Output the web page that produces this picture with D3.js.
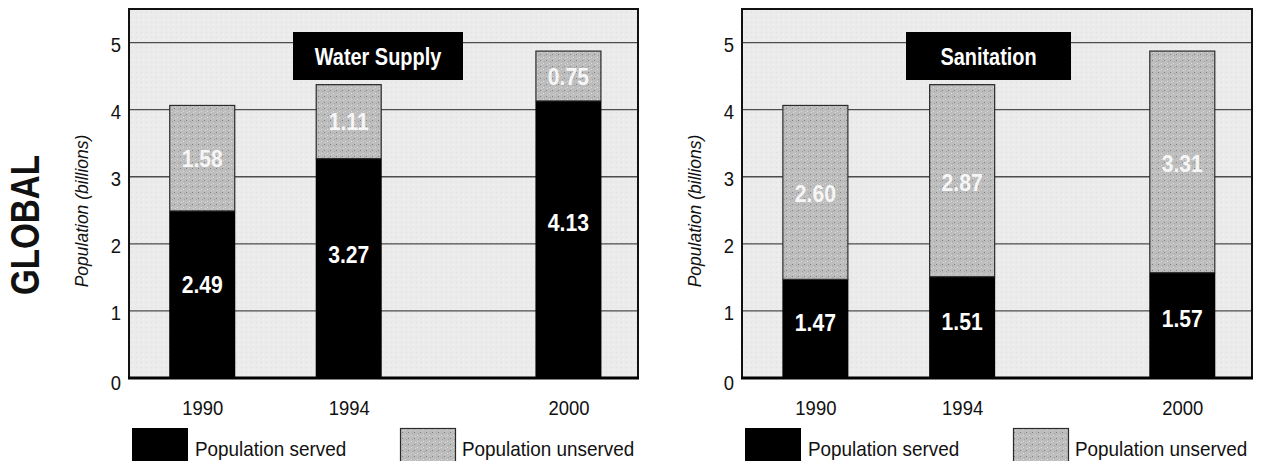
<!DOCTYPE html>
<html><head><meta charset="utf-8">
<script src="https://cdn.jsdelivr.net/npm/d3@7"></script>
<style>body{margin:0;background:#fff}svg{display:block}</style>
</head><body><svg id="c" width="1264" height="461"></svg>
<script>
// ---- data ----
const years = [1990, 1994, 2000];
const waterServed = [2.49, 3.27, 4.13];
const waterUnserved = [1.58, 1.11, 0.75];
const sanServed = [1.47, 1.51, 1.57];
const sanUnserved = [2.60, 2.87, 3.31];
const yTicks = [0, 1, 2, 3, 4, 5];
const panelTitles = ["Water Supply", "Sanitation"];
const legendLabels = ["Population served", "Population unserved"];
const yAxisTitle = "Population (billions)";
const sideLabel = "GLOBAL";

const FONT = "'Liberation Sans', Arial, Helvetica, sans-serif";
const svg = d3.select("#c");

// pattern for unserved
const defs = svg.append("defs");
const pat = defs.append("pattern").attr("id", "dots").attr("patternUnits", "userSpaceOnUse")
  .attr("width", 6).attr("height", 6);
pat.append("rect").attr("width", 6).attr("height", 6).attr("fill", "#bdbdbd");
pat.append("rect").attr("x", 0).attr("y", 0).attr("width", 1).attr("height", 1).attr("fill", "#808080");
pat.append("rect").attr("x", 3).attr("y", 3).attr("width", 1).attr("height", 1).attr("fill", "#dcdcdc");
pat.append("rect").attr("x", 4).attr("y", 1).attr("width", 1).attr("height", 1).attr("fill", "#a0a0a0");
pat.append("rect").attr("x", 1).attr("y", 4).attr("width", 1).attr("height", 1).attr("fill", "#d4d4d4");

const bgPat = defs.append("pattern").attr("id", "bgdots").attr("patternUnits", "userSpaceOnUse")
  .attr("width", 5).attr("height", 5);
bgPat.append("rect").attr("width", 5).attr("height", 5).attr("fill", "#ebebeb");
bgPat.append("rect").attr("x", 1).attr("y", 2).attr("width", 1).attr("height", 1).attr("fill", "#dedede");
bgPat.append("rect").attr("x", 3).attr("y", 4).attr("width", 1).attr("height", 1).attr("fill", "#f4f4f4");

const panels = [
  { x0: 129, x1: 638, served: waterServed, unserved: waterUnserved, title: panelTitles[0], boxW: 170 },
  { x0: 742, x1: 1252, served: sanServed, unserved: sanUnserved, title: panelTitles[1], boxW: 165 }
];

const yTop = 9, yBot = 378;
const y = d3.scaleLinear().domain([0, 5.5]).range([yBot, yTop]);
const barW = 66;

function addText(g, txt, x, yy, opts) {
  const t = g.append("text")
    .attr("transform", `translate(${x},${yy})` + (opts.rotate ? ` rotate(${opts.rotate})` : "") + ` scale(${opts.sx || 1},1)`)
    .attr("text-anchor", opts.anchor || "middle")
    .attr("dy", opts.dy || "0.35em")
    .attr("font-family", FONT)
    .attr("font-size", opts.size)
    .attr("font-weight", opts.weight || "normal")
    .attr("font-style", opts.style || "normal")
    .attr("fill", opts.fill || "#111")
    .text(txt);
  return t;
}

// side label
addText(svg, sideLabel, 25, 225, { rotate: -90, size: 40, weight: "bold", sx: 0.83, dy: "0.36em" });

panels.forEach(p => {
  const x = d3.scaleLinear().domain([1988, 2001.9]).range([p.x0, p.x1]);
  const g = svg.append("g");

  // background
  g.append("rect").attr("x", p.x0).attr("y", yTop).attr("width", p.x1 - p.x0).attr("height", yBot - yTop)
    .attr("fill", "url(#bgdots)");

  // gridlines
  g.selectAll("line.grid").data(yTicks.filter(d => d > 0)).join("line")
    .attr("class", "grid")
    .attr("x1", p.x0).attr("x2", p.x1)
    .attr("y1", d => y(d)).attr("y2", d => y(d))
    .attr("stroke", "#4d4d4d").attr("stroke-width", 1.3);

  // bars
  const data = years.map((yr, i) => ({ yr, s: p.served[i], u: p.unserved[i] }));
  g.selectAll("rect.served").data(data).join("rect")
    .attr("class", "served")
    .attr("x", d => x(d.yr) - barW / 2).attr("width", barW)
    .attr("y", d => y(d.s)).attr("height", d => y(0) - y(d.s))
    .attr("fill", "#000");
  g.selectAll("rect.unserved").data(data).join("rect")
    .attr("class", "unserved")
    .attr("x", d => x(d.yr) - barW / 2 + 0.5).attr("width", barW - 1)
    .attr("y", d => y(d.s + d.u) + 0.5).attr("height", d => y(d.s) - y(d.s + d.u) - 0.5)
    .attr("fill", "url(#dots)").attr("stroke", "#2a2a2a").attr("stroke-width", 1.2);

  // frame
  g.append("path")
    .attr("d", `M${p.x0},${yBot} L${p.x0},${yTop} L${p.x1},${yTop} L${p.x1},${yBot}`)
    .attr("fill", "none").attr("stroke", "#111").attr("stroke-width", 2);
  g.append("line").attr("x1", p.x0 - 1).attr("x2", p.x1 + 1).attr("y1", yBot).attr("y2", yBot)
    .attr("stroke", "#000").attr("stroke-width", 3);

  // title box
  const bx = p.x0 + 164;
  g.append("rect").attr("x", bx).attr("y", 32).attr("width", p.boxW).attr("height", 48).attr("fill", "#000");
  addText(g, p.title, bx + p.boxW / 2, 56, { size: 24, weight: "bold", sx: 0.83, fill: "#fff", dy: "0.36em" });

  // value labels
  data.forEach(d => {
    addText(g, d.s.toFixed(2), x(d.yr), y(d.s * 0.56), { size: 23, weight: "bold", sx: 0.92, fill: "#fff", dy: "0.36em" });
    addText(g, d.u.toFixed(2), x(d.yr), y(d.s + d.u * 0.49), { size: 23, weight: "bold", sx: 0.92, fill: "#f6f6f6", dy: "0.36em" });
  });

  // y axis
  const ya = g.append("g").attr("transform", `translate(${p.x0},0)`)
    .call(d3.axisLeft(y).tickValues(yTicks).tickSize(0).tickPadding(9).tickFormat(d3.format("d")));
  ya.select(".domain").remove();
  ya.selectAll("text").attr("font-family", FONT).attr("font-size", 21).attr("fill", "#111")
    .attr("dy", "0.42em").attr("transform", "scale(0.88,1)");
  ya.selectAll(".tick").filter(d => d === 0).select("text").attr("dy", "0.55em");

  // x axis
  const xa = g.append("g").attr("transform", `translate(0,${yBot})`)
    .call(d3.axisBottom(x).tickValues(years).tickSize(0).tickPadding(22).tickFormat(d3.format("d")));
  xa.select(".domain").remove();
  xa.selectAll("text").attr("font-family", FONT).attr("font-size", 21).attr("fill", "#111")
    .attr("transform", "scale(0.88,1)");

  // y title
  addText(g, yAxisTitle, p.x0 - 47, 211, { rotate: -90, size: 17.5, style: "italic", dy: "0.35em" });

  // legend
  g.append("rect").attr("x", p.x0 + 3).attr("y", 428).attr("width", 56).attr("height", 45).attr("fill", "#000");
  addText(g, legendLabels[0], p.x0 + 66, 448, { size: 21, sx: 0.9, anchor: "start", dy: "0.36em" });
  g.append("rect").attr("x", p.x0 + 271.5).attr("y", 428.5).attr("width", 55).attr("height", 45)
    .attr("fill", "url(#dots)").attr("stroke", "#2a2a2a").attr("stroke-width", 1.2);
  addText(g, legendLabels[1], p.x0 + 333, 448, { size: 21, sx: 0.9, anchor: "start", dy: "0.36em" });
});
</script>
</body></html>
